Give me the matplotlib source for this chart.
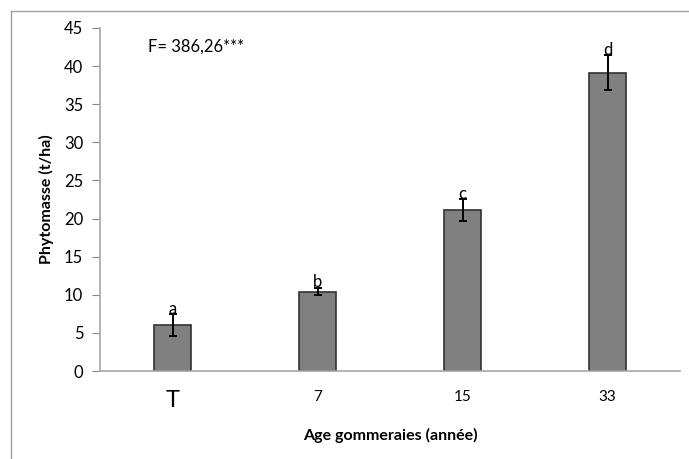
import matplotlib.pyplot as plt
from matplotlib.lines import Line2D

plt.rcParams['font.family'] = ['Lato', 'DejaVu Sans']

categories = ['T', '7', '15', '33']
phytomasse = [6.05, 10.43, 21.1, 39.15]
erreurs = [1.4, 0.45, 1.4, 2.25]
lettres = ['a', 'b', 'c', 'd']

fig = plt.figure(figsize=(6.89, 4.59), dpi=100)
ax = fig.add_axes([100 / 689, 88 / 459, 580 / 689, 343 / 459])

x = range(len(categories))
ax.bar(x, phytomasse, width=0.26, color='#808080', edgecolor='#333333', linewidth=1.2,
       yerr=erreurs, error_kw=dict(ecolor='black', elinewidth=1.4, capsize=3, capthick=1.4))

for i, (v, e, l) in enumerate(zip(phytomasse, erreurs, lettres)):
    ax.text(i, v + e - 0.3, l, ha='center', va='bottom', fontsize=12)

ax.text(0.083, 0.945, 'F= 386,26***', transform=ax.transAxes, ha='left', va='center', fontsize=12)

ax.set_xlim(-0.5, 3.5)
ax.set_ylim(0, 45)
ax.set_yticks(range(0, 46, 5))
ax.set_xticks(list(x))
ax.set_xticklabels(categories, fontsize=11)
ax.get_xticklabels()[0].set_fontsize(17)
ax.tick_params(axis='x', length=0, pad=14)
ax.tick_params(axis='y', direction='out', length=6, color='#868686', labelsize=12, pad=6)

for s in ['top', 'right']:
    ax.spines[s].set_visible(False)
for s in ['left', 'bottom']:
    ax.spines[s].set_color('#a6a6a6')
    ax.spines[s].set_linewidth(1.2)

ax.set_xlabel('Age gommeraies (année)', fontsize=11.5, fontweight='bold', labelpad=12)
ax.set_ylabel('Phytomasse (t/ha)', fontsize=11.5, fontweight='bold', labelpad=7)

# cadre du graphique
fig.add_artist(Line2D([11 / 689, 1], [1 - 11 / 459, 1 - 11 / 459], transform=fig.transFigure,
                      color='#a0a0a0', linewidth=1))
fig.add_artist(Line2D([11 / 689, 11 / 689], [0, 1 - 11 / 459], transform=fig.transFigure,
                      color='#a0a0a0', linewidth=1))

fig.savefig('out.png', dpi=100)
